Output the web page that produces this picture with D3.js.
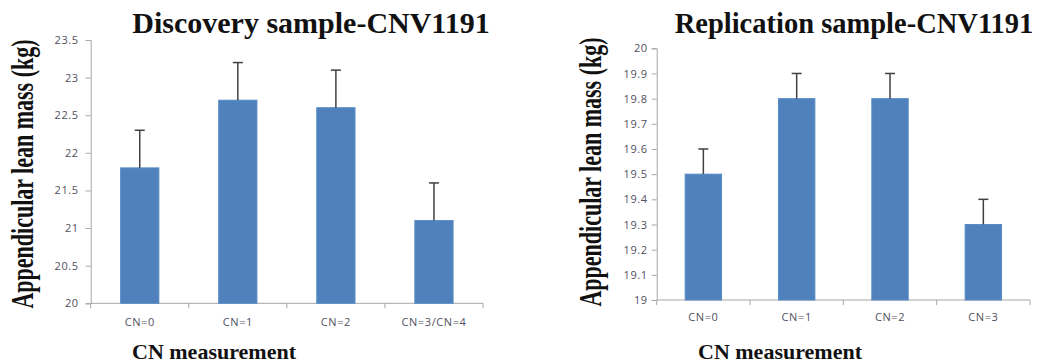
<!DOCTYPE html>
<html>
<head>
<meta charset="utf-8">
<script src="https://cdn.jsdelivr.net/npm/d3@7"></script>
<style>
    body { margin: 0; background: #fff; }
    .tick text { font-family: "Open Sans", sans-serif; font-size: 11px; fill: #505060; letter-spacing: 0.6px; }
    .axis path, .axis line { stroke: #a6a6a6; }
    .title, .ylab, .xlab { font-family: "Liberation Serif", "Times New Roman", serif; font-weight: bold; fill: #111; }
</style>
</head>
<body>
<div id="chart"></div>
<script>
let w = 1037;
let h = 363;

// Discovery sample
let disc_categories = ["CN=0", "CN=1", "CN=2", "CN=3/CN=4"];
let disc_values = [21.8, 22.7, 22.6, 21.1];
let disc_errors = [0.5, 0.5, 0.5, 0.5];
let disc_ticks = [20, 20.5, 21, 21.5, 22, 22.5, 23, 23.5];

// Replication sample
let rep_categories = ["CN=0", "CN=1", "CN=2", "CN=3"];
let rep_values = [19.5, 19.8, 19.8, 19.3];
let rep_errors = [0.1, 0.1, 0.1, 0.1];
let rep_ticks = [19, 19.1, 19.2, 19.3, 19.4, 19.5, 19.6, 19.7, 19.8, 19.9, 20];

let svg = d3.select("#chart")
    .append("svg")
    .attr("width", w)
    .attr("height", h);

let drawChart = function (opt) {
    let x_scale = d3.scaleBand()
        .domain(opt.categories)
        .range([opt.x0, opt.x1])
        .paddingInner(0.61)
        .paddingOuter(0.305);

    let y_scale = d3.scaleLinear()
        .domain([opt.ticks[0], opt.ticks[opt.ticks.length - 1]])
        .range([opt.y0, opt.y1]);

    let g = svg.append("g");

    // y axis
    g.append("g")
        .attr("class", "axis")
        .attr("transform", "translate(" + opt.x0 + ",0)")
        .call(d3.axisLeft(y_scale)
            .tickValues(opt.ticks)
            .tickFormat(d => String(d))
            .tickSize(5)
            .tickPadding(opt.ypad));

    // x axis, ticks at category boundaries
    let x_axis = g.append("g")
        .attr("class", "axis")
        .attr("transform", "translate(0," + opt.y0 + ")")
        .call(d3.axisBottom(x_scale).tickSize(0).tickPadding(opt.xpad));
    x_axis.select(".domain").attr("d", "M" + opt.x0 + ",0H" + opt.x1);

    let step = x_scale.step();
    x_axis.selectAll(".bound")
        .data(d3.range(opt.categories.length + 1))
        .enter()
        .append("line")
        .attr("x1", (d) => opt.x0 + d * step)
        .attr("x2", (d) => opt.x0 + d * step)
        .attr("y1", 0)
        .attr("y2", 5)
        .attr("stroke", "#a6a6a6");

    // bars
    g.selectAll(".bar")
        .data(opt.values)
        .enter()
        .append("rect")
        .attr("class", "bar")
        .attr("x", (d, i) => x_scale(opt.categories[i]))
        .attr("y", (d) => y_scale(d))
        .attr("width", x_scale.bandwidth())
        .attr("height", (d) => opt.y0 - y_scale(d))
        .attr("fill", "#4f81bd")
        .attr("stroke", "#5b8cc6")
        .attr("stroke-width", 1);

    // error bars (upper only)
    let cap = 5;
    opt.values.forEach((v, i) => {
        let cx = x_scale(opt.categories[i]) + x_scale.bandwidth() / 2;
        let top = y_scale(v + opt.errors[i]);
        g.append("line")
            .attr("x1", cx).attr("x2", cx)
            .attr("y1", y_scale(v)).attr("y2", top)
            .attr("stroke", "#404040").attr("stroke-width", 1.5);
        g.append("line")
            .attr("x1", cx - cap).attr("x2", cx + cap)
            .attr("y1", top).attr("y2", top)
            .attr("stroke", "#404040").attr("stroke-width", 1.5);
    });

    g.append("text")
        .attr("class", "title")
        .attr("x", opt.titleX)
        .attr("y", 33)
        .attr("text-anchor", "middle")
        .style("font-size", opt.titleSize + "px")
        .text(opt.title);

    // the y label in the picture is squeezed sideways, so stretch the glyph height
    g.append("text")
        .attr("class", "ylab")
        .attr("transform", "translate(" + opt.ylabX + "," + opt.ylabY + ") rotate(-90) scale(1,1.45)")
        .attr("text-anchor", "middle")
        .style("font-size", "22px")
        .text("Appendicular lean mass (kg)");

    g.append("text")
        .attr("class", "xlab")
        .attr("x", opt.xlabX)
        .attr("y", 359)
        .attr("text-anchor", "middle")
        .style("font-size", "22px")
        .text("CN measurement");
};

drawChart({
    categories: disc_categories, values: disc_values, errors: disc_errors, ticks: disc_ticks,
    x0: 90.7, x1: 483, y0: 303.3, y1: 40, ypad: 7, xpad: 15,
    title: "Discovery sample-CNV1191", titleX: 311, titleSize: 30,
    ylabX: 33, ylabY: 174, xlabX: 214
});

drawChart({
    categories: rep_categories, values: rep_values, errors: rep_errors, ticks: rep_ticks,
    x0: 656.7, x1: 1030, y0: 300, y1: 48.3, ypad: 4, xpad: 13,
    title: "Replication sample-CNV1191", titleX: 854, titleSize: 28.5,
    ylabX: 601, ylabY: 172, xlabX: 780
});
</script>
</body>
</html>
